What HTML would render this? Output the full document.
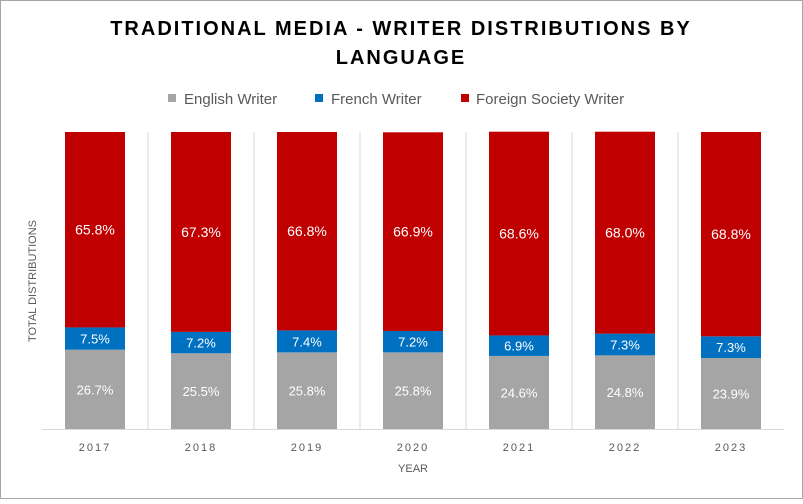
<!DOCTYPE html>
<html><head><meta charset="utf-8"><style>
body{margin:0;background:#fff;}
svg text{font-family:"Liberation Sans",sans-serif;}
</style></head><body>
<svg id="chart" width="803" height="499" xmlns="http://www.w3.org/2000/svg">
<rect x="0.5" y="0.5" width="802" height="498" fill="#fff" stroke="#a6a6a6"/>
<text x="401" y="35" text-anchor="middle" font-size="20" font-weight="bold" letter-spacing="2" fill="#000">TRADITIONAL MEDIA - WRITER DISTRIBUTIONS BY</text>
<text x="401" y="64" text-anchor="middle" font-size="20" font-weight="bold" letter-spacing="2" fill="#000">LANGUAGE</text>
<g>
<g><rect x="168" y="94" width="8" height="8" fill="#a5a5a5"/><text x="184" y="104" font-size="15" fill="#595959">English Writer</text></g>
<g><rect x="315" y="94" width="8" height="8" fill="#0070c0"/><text x="331" y="104" font-size="15" fill="#595959">French Writer</text></g>
<g><rect x="461" y="94" width="8" height="8" fill="#c00000"/><text x="476" y="104" font-size="15" fill="#595959">Foreign Society Writer</text></g>
</g>
<text transform="translate(36,281) rotate(-90)" text-anchor="middle" font-size="11" fill="#595959">TOTAL DISTRIBUTIONS</text>
<text x="413" y="472" text-anchor="middle" font-size="11" fill="#595959">YEAR</text>
<g id="plot"></g>
</svg>
<script>
const years=["2017","2018","2019","2020","2021","2022","2023"];
const english=[26.7,25.5,25.8,25.8,24.6,24.8,23.9];
const french=[7.5,7.2,7.4,7.2,6.9,7.3,7.3];
const foreign=[65.8,67.3,66.8,66.9,68.6,68.0,68.8];
const NS="http://www.w3.org/2000/svg";
const plot=document.getElementById("plot");
const plotLeft=42,plotRight=784,plotTop=132,plotBottom=429;
const band=(plotRight-plotLeft)/years.length,barW=60;
const xPos=i=>plotLeft+i*band+(band-barW)/2;
const yPos=v=>plotBottom-(v/100)*(plotBottom-plotTop);
function mk(tag,attrs){const e=document.createElementNS(NS,tag);for(const k in attrs)e.setAttribute(k,attrs[k]);plot.appendChild(e);return e;}
for(let i=1;i<years.length;i++){
 const g=mk("line",{x1:plotLeft+i*band,x2:plotLeft+i*band,y1:plotTop,y2:plotBottom,stroke:"#d9d9d9","stroke-width":1});
 
 
}
const ax=mk("line",{x1:plotLeft,x2:plotRight,y1:plotBottom+0.5,y2:plotBottom+0.5,stroke:"#d9d9d9","stroke-width":1});


const series=[["english",english,"#a5a5a5"],["french",french,"#0070c0"],["foreign",foreign,"#c00000"]];
years.forEach((yr,i)=>{
 let cum=0;
 series.forEach(([nm,arr,col])=>{
  const v=arr[i];const y0=yPos(cum),y1=yPos(cum+v);cum+=v;
  const r=mk("rect",{x:xPos(i),y:y1,width:barW,height:y0-y1,fill:col});
  
  
  const t=mk("text",{x:xPos(i)+barW/2,y:(y0+y1)/2+5,"text-anchor":"middle","font-size":nm==="foreign"?14:13,fill:"#fff"});
  t.textContent=v.toFixed(1)+"%";
  
  
 });
 const lt=mk("text",{x:xPos(i)+barW/2,y:plotBottom+22,"text-anchor":"middle","font-size":11,"letter-spacing":"2",fill:"#595959"});
 lt.textContent=yr;
 
 
});
</script>
</body></html>
